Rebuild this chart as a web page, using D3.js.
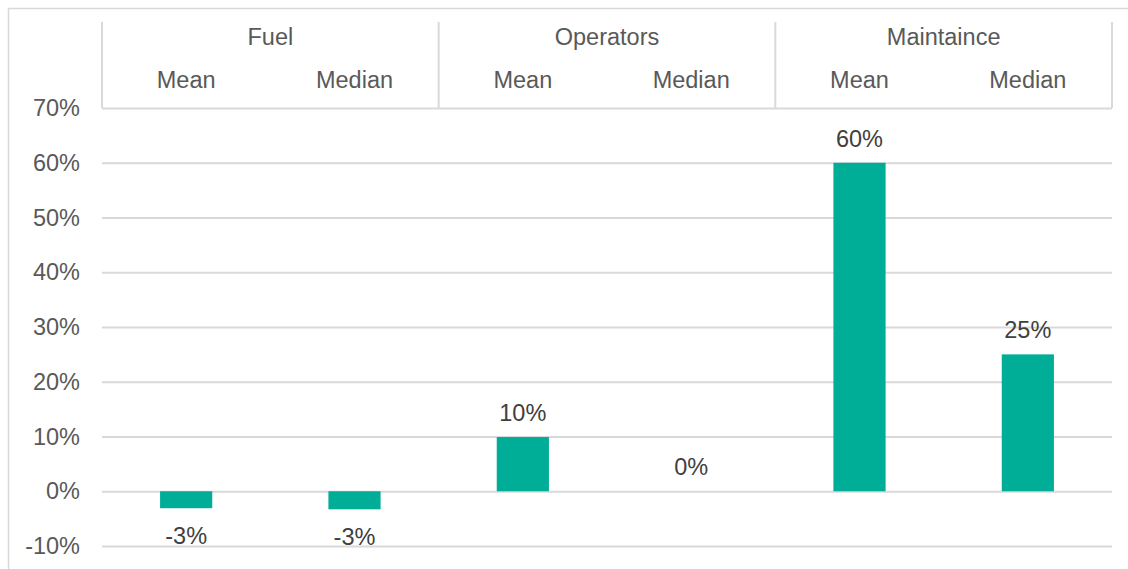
<!DOCTYPE html>
<html>
<head>
<meta charset="utf-8">
<script src="https://cdn.jsdelivr.net/npm/d3@7"></script>
<style>
  html, body { margin: 0; padding: 0; background: #fff; }
  svg { display: block; font-family: "Liberation Sans", Arial, sans-serif; }
</style>
</head>
<body>
<svg id="chart" width="1128" height="569"></svg>
<script>
// Cost categories and their statistics
const groups = ["Fuel", "Operators", "Maintaince"];
const stats = ["Mean", "Median"];
// Percentage change, in the same order: group by group, Mean then Median
const values = [-0.031, -0.033, 0.099, 0.0, 0.60, 0.25];
const yTicks = [-0.1, 0, 0.1, 0.2, 0.3, 0.4, 0.5, 0.6, 0.7];

const svg = d3.select("#chart");
const W = 1128, H = 569;
const left = 102, right = 1112;
const y0px = 108, y1px = 546;   // plot rows for 70% and -10%
const textColor = "#595959";
const gridColor = "#d9d9d9";
const barColor = "#00ad97";
const fontSize = "23.5px";

// Outer chart frame
svg.append("path")
  .attr("d", `M8.5,${H} V8.5 H${W}`)
  .attr("fill", "none").attr("stroke", gridColor).attr("stroke-width", 1.5);

// Flattened category keys
const items = [];
groups.forEach(g => stats.forEach(s => items.push({ group: g, stat: s })));
items.forEach((d, i) => d.value = values[i]);

const xGroup = d3.scaleBand().domain(groups).range([left, right]).padding(0);
const xSub = d3.scaleBand().domain(stats).range([0, xGroup.bandwidth()]).paddingInner(0.69).paddingOuter(0.345);
const y = d3.scaleLinear().domain([-0.1, 0.7]).range([y1px, y0px]);

// Percent format with a plain hyphen for negatives
const pct = v => d3.format(".0%")(v).replace("\u2212", "-");

// Y axis: gridlines and labels
const yAxis = d3.axisLeft(y).tickValues(yTicks).tickFormat(pct).tickSize(-(right - left)).tickPadding(22);
const gy = svg.append("g").attr("transform", `translate(${left},0)`).call(yAxis);
gy.select(".domain").remove();
gy.selectAll(".tick line").attr("stroke", gridColor).attr("stroke-width", 2);
gy.selectAll(".tick text")
  .attr("fill", textColor).style("font-size", fontSize)
  .attr("font-family", "Liberation Sans, Arial, sans-serif");

// Multi-level category header
const header = svg.append("g");
const vx = groups.map(g => xGroup(g)).concat([right]);
header.selectAll("line.sep").data(vx).join("line")
  .attr("class", "sep")
  .attr("x1", d => d).attr("x2", d => d)
  .attr("y1", 22).attr("y2", y0px)
  .attr("stroke", gridColor).attr("stroke-width", 2);

header.selectAll("text.group").data(groups).join("text")
  .attr("class", "group")
  .attr("x", d => xGroup(d) + xGroup.bandwidth() / 2)
  .attr("y", 44.5)
  .attr("text-anchor", "middle")
  .attr("fill", textColor).style("font-size", fontSize)
  .text(d => d);

header.selectAll("text.stat").data(items).join("text")
  .attr("class", "stat")
  .attr("x", d => xGroup(d.group) + xSub(d.stat) + xSub.bandwidth() / 2)
  .attr("y", 87.5)
  .attr("text-anchor", "middle")
  .attr("fill", textColor).style("font-size", fontSize)
  .text(d => d.stat);

// Bars
svg.append("g").selectAll("rect").data(items).join("rect")
  .attr("x", d => xGroup(d.group) + xSub(d.stat))
  .attr("width", xSub.bandwidth())
  .attr("y", d => y(Math.max(0, d.value)))
  .attr("height", d => Math.abs(y(d.value) - y(0)))
  .attr("fill", barColor);

// Value labels
svg.append("g").selectAll("text").data(items).join("text")
  .attr("x", d => xGroup(d.group) + xSub(d.stat) + xSub.bandwidth() / 2)
  .attr("y", d => d.value < 0 ? y(d.value) + 36 : y(d.value) - 16)
  .attr("text-anchor", "middle")
  .attr("fill", "#404040").style("font-size", fontSize)
  .text(d => pct(d.value));
</script>
</body>
</html>
